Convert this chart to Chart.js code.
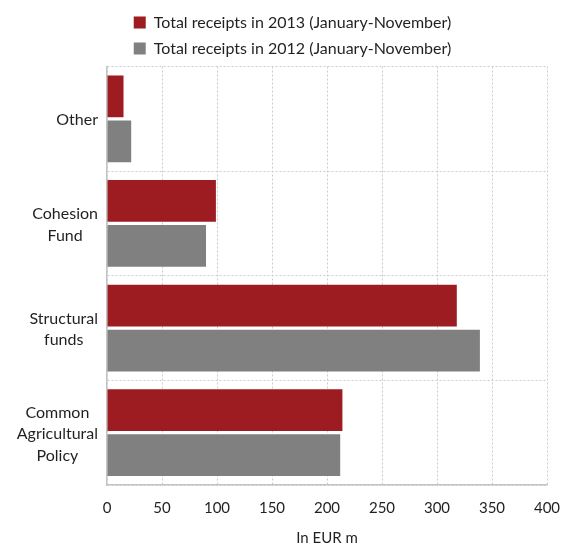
<!DOCTYPE html>
<html>
<head>
<meta charset="utf-8">
<title>Receipts from the EU budget</title>
<script src="https://cdn.jsdelivr.net/npm/chart.js"></script>
<style>
  html, body { margin: 0; padding: 0; background: #ffffff; }
  #wrap { width: 561px; height: 544px; }
</style>
</head>
<body>
<div id="wrap"><canvas id="receiptsChart" width="561" height="544"></canvas></div>
<script>
const categories = [
  ["Other"],
  ["Cohesion", "Fund"],
  ["Structural", "funds"],
  ["Common", "Agricultural", "Policy"],
];
const receipts2013 = [15, 99, 318, 214];
const receipts2012 = [22, 90, 339, 212];
const xTicks = [0, 50, 100, 150, 200, 250, 300, 350, 400];

const fontFamily = "Lato, 'Open Sans', sans-serif";
const textColor = "#231f20";

// category labels: each block right-aligned to the axis, its lines centred on each other
const categoryLabels = {
  id: "categoryLabels",
  afterDraw(chart) {
    const ctx = chart.ctx;
    const scale = chart.scales.y;
    const lineHeight = 21.5;
    ctx.save();
    ctx.font = `16px ${fontFamily}`;
    ctx.fillStyle = textColor;
    ctx.textAlign = "center";
    ctx.textBaseline = "middle";
    categories.forEach((lines, i) => {
      const y = scale.getPixelForTick(i);
      const widest = Math.max(...lines.map((l) => ctx.measureText(l).width));
      const cx = chart.chartArea.left - 9 - widest / 2;
      lines.forEach((line, j) => {
        ctx.fillText(line, cx, y + (j - (lines.length - 1) / 2) * lineHeight + 1.5);
      });
    });
    ctx.restore();
  },
};

const ctx = document.getElementById("receiptsChart").getContext("2d");
new Chart(ctx, {
  type: "bar",
  data: {
    labels: categories,
    datasets: [
      {
        label: "Total receipts in 2013 (January-November)",
        data: receipts2013,
        backgroundColor: "#9c1c21",
      },
      {
        label: "Total receipts in 2012 (January-November)",
        data: receipts2012,
        backgroundColor: "#808080",
      },
    ],
  },
  options: {
    indexAxis: "y",
    responsive: false,
    animation: false,
    categoryPercentage: 0.86,
    barPercentage: 0.93,
    layout: { padding: { top: 4.5, left: 24, right: 0, bottom: 0 } },
    plugins: {
      tooltip: { enabled: false },
      legend: {
        position: "top",
        align: "center",
        labels: {
          boxWidth: 12,
          boxHeight: 12,
          padding: 10,
          color: textColor,
          font: { family: fontFamily, size: 16 },
        },
      },
    },
    scales: {
      x: {
        min: 0,
        max: 400,
        afterBuildTicks: (scale) => {
          scale.ticks = xTicks.map((v) => ({ value: v }));
        },
        afterFit: (scale) => {
          scale.paddingRight = 14;
        },
        grid: {
          color: "#cccccc",
          lineWidth: 1,
          drawTicks: false,
        },
        border: { color: "#c4c4c4", width: 1.5, dash: [2, 2] },
        ticks: {
          padding: 15.5,
          color: textColor,
          font: { family: fontFamily, size: 15, lineHeight: 1 },
        },
        title: {
          display: true,
          text: "In EUR m",
          color: textColor,
          padding: { top: 0, bottom: -2 },
          font: { family: fontFamily, size: 15, lineHeight: 1 },
        },
      },
      y: {
        afterFit: (scale) => {
          scale.width = 83;
        },
        grid: {
          color: "#cccccc",
          lineWidth: 1,
          drawTicks: false,
        },
        border: { color: "#c4c4c4", width: 1.5, dash: [2, 2] },
        ticks: { display: false },
      },
    },
  },
  plugins: [categoryLabels],
});
</script>
</body>
</html>
